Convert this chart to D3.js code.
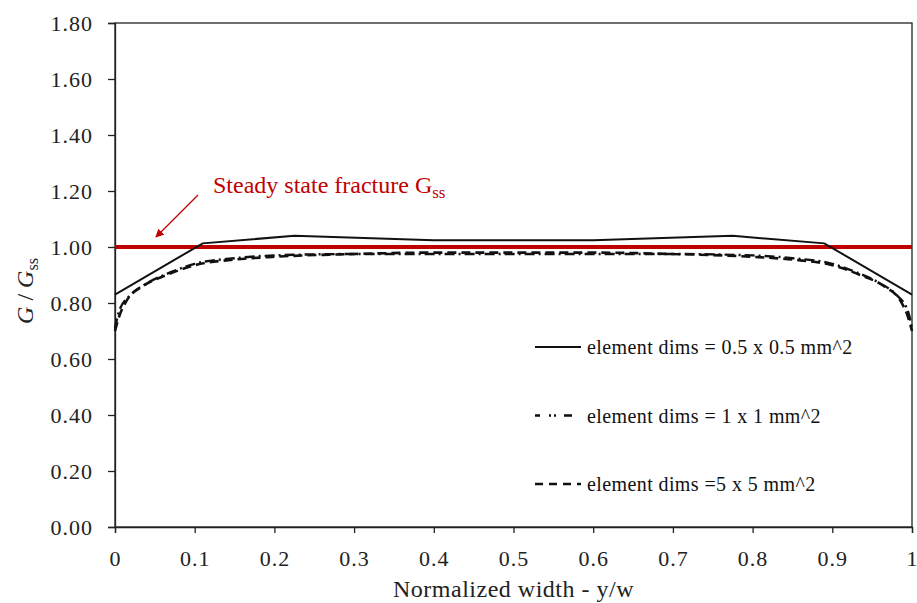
<!DOCTYPE html>
<html>
<head>
<meta charset="utf-8">
<script src="https://cdn.jsdelivr.net/npm/d3@7"></script>
<style>
  body { margin: 0; background: #fff; }
  svg text { font-family: "Liberation Serif", "Times New Roman", serif; }
</style>
</head>
<body>
<div id="chart"></div>
<script>
// data
const xFine = [0, 0.11, 0.225, 0.4, 0.6, 0.775, 0.89, 1]
const gFine = [0.83, 1.013, 1.04, 1.024, 1.024, 1.04, 1.013, 0.83]

const xMid = [0, 0.005, 0.02, 0.04, 0.07, 0.1, 0.15, 0.2, 0.3, 0.4, 0.5, 0.6, 0.7, 0.8, 0.85, 0.9, 0.93, 0.96, 0.98, 0.995, 1]
const gMid = [0.71, 0.77, 0.83, 0.87, 0.91, 0.94, 0.96, 0.97, 0.975, 0.975, 0.975, 0.975, 0.975, 0.97, 0.96, 0.94, 0.91, 0.87, 0.83, 0.77, 0.71]

const xCoarse = [0, 0.005, 0.015, 0.035, 0.065, 0.1, 0.15, 0.2, 0.3, 0.4, 0.5, 0.6, 0.7, 0.8, 0.85, 0.9, 0.935, 0.965, 0.985, 0.995, 1]
const gCoarse = [0.70, 0.75, 0.81, 0.86, 0.90, 0.935, 0.955, 0.965, 0.975, 0.98, 0.98, 0.98, 0.975, 0.965, 0.955, 0.935, 0.90, 0.86, 0.81, 0.75, 0.70]

const steadyState = 1.0
const xTicks = [0, 0.1, 0.2, 0.3, 0.4, 0.5, 0.6, 0.7, 0.8, 0.9, 1]
const yTicks = [0, 0.2, 0.4, 0.6, 0.8, 1.0, 1.2, 1.4, 1.6, 1.8]
const legendLabels = ["element dims = 0.5 x 0.5 mm^2", "element dims = 1 x 1 mm^2", "element dims =5 x 5 mm^2"]

const serif = '"Liberation Serif", "Times New Roman", serif'

const dimensions = {
    width: 917,
    height: 603,
    margins: { top: 23, right: 5, bottom: 76, left: 115 }
}
dimensions.boundedWidth = dimensions.width - dimensions.margins.left - dimensions.margins.right
dimensions.boundedHeight = dimensions.height - dimensions.margins.top - dimensions.margins.bottom

const wrapper = d3.select("#chart").append("svg")
    .attr("width", dimensions.width)
    .attr("height", dimensions.height)
    .attr("font-family", serif)

const bounds = wrapper.append("g")
    .attr("transform", `translate(${dimensions.margins.left}, ${dimensions.margins.top})`)

const xScale = d3.scaleLinear().domain([0, 1]).range([0, dimensions.boundedWidth])
const yScale = d3.scaleLinear().domain([0, 1.8]).range([dimensions.boundedHeight, 0])

// frame
bounds.append("rect")
    .attr("width", dimensions.boundedWidth)
    .attr("height", dimensions.boundedHeight)
    .attr("fill", "none")
    .attr("stroke", "#222")
    .attr("stroke-width", 1.3)

// axes
const xAxis = bounds.append("g")
    .attr("transform", `translate(0, ${dimensions.boundedHeight})`)
    .call(d3.axisBottom(xScale).tickValues(xTicks).tickSize(6).tickPadding(17)
        .tickFormat(d => d === 0 || d === 1 ? d3.format("d")(d) : d3.format(".1f")(d)))
const yAxis = bounds.append("g")
    .call(d3.axisLeft(yScale).tickValues(yTicks).tickSize(7).tickPadding(15)
        .tickFormat(d3.format(".2f")))

;[xAxis, yAxis].forEach(a => {
    a.attr("font-family", serif)
    a.select(".domain").attr("stroke", "#222").attr("stroke-width", 1.3)
    a.selectAll(".tick line").attr("stroke", "#222").attr("stroke-width", 1.3)
    a.selectAll(".tick text").attr("font-size", 22).attr("fill", "#222")
        .attr("letter-spacing", 1)
})

// axis titles
wrapper.append("text")
    .attr("x", dimensions.margins.left + dimensions.boundedWidth / 2)
    .attr("y", 597)
    .attr("text-anchor", "middle")
    .attr("font-size", 24)
    .attr("letter-spacing", 0.5)
    .attr("fill", "#222")
    .text("Normalized width - y/w")

const yTitle = wrapper.append("text")
    .attr("transform", "translate(33, 291) rotate(-90)")
    .attr("text-anchor", "middle")
    .attr("font-size", 24)
    .attr("fill", "#222")
yTitle.append("tspan").attr("font-style", "italic").text("G")
yTitle.append("tspan").text(" / ")
yTitle.append("tspan").attr("font-style", "italic").text("G")
yTitle.append("tspan").attr("font-size", 16).attr("dy", 5).text("ss")

// steady state line
bounds.append("line")
    .attr("x1", 0)
    .attr("x2", dimensions.boundedWidth)
    .attr("y1", yScale(steadyState))
    .attr("y2", yScale(steadyState))
    .attr("stroke", "#c00000")
    .attr("stroke-width", 4)

// series
const series = [
    { xs: xFine, ys: gFine, dash: null, legendDash: null, width: 2, curve: d3.curveLinear, len: 46 },
    { xs: xMid, ys: gMid, dash: "10,4,2,4", legendDash: "5,9,2,3,2,8,8", width: 2.4, curve: d3.curveMonotoneX, len: 38 },
    { xs: xCoarse, ys: gCoarse, dash: "9,5", legendDash: "8,6", width: 2.6, curve: d3.curveMonotoneX, len: 46 }
]

series.forEach(s => {
    const pts = s.xs.map((x, i) => [x, s.ys[i]])
    const line = d3.line()
        .x(d => xScale(d[0]))
        .y(d => yScale(d[1]))
        .curve(s.curve)
    bounds.append("path")
        .datum(pts)
        .attr("d", line)
        .attr("fill", "none")
        .attr("stroke", "#111")
        .attr("stroke-width", s.width)
        .attr("stroke-dasharray", s.dash)
})

// legend
const legend = wrapper.append("g")
    .attr("transform", "translate(535, 347)")

series.forEach((s, i) => {
    const item = legend.append("g")
        .attr("transform", `translate(0, ${i * 68.5})`)
    item.append("line")
        .attr("x1", 0)
        .attr("x2", s.len)
        .attr("stroke", "#111")
        .attr("stroke-width", s.width)
        .attr("stroke-dasharray", s.legendDash)
    item.append("text")
        .attr("x", 52)
        .attr("y", 7)
        .attr("font-size", 20)
        .attr("letter-spacing", 0.4)
        .attr("fill", "#111")
        .text(legendLabels[i])
})

// annotation
const note = wrapper.append("text")
    .attr("x", 213)
    .attr("y", 193)
    .attr("font-size", 24)
    .attr("fill", "#c00000")
note.append("tspan").text("Steady state fracture G")
note.append("tspan").attr("font-size", 17).attr("dy", 5).text("ss")

const defs = wrapper.append("defs")
defs.append("marker")
    .attr("id", "arrow")
    .attr("viewBox", "0 0 10 10")
    .attr("refX", 9)
    .attr("refY", 5)
    .attr("markerWidth", 7)
    .attr("markerHeight", 7)
    .attr("orient", "auto")
    .append("path")
    .attr("d", "M0,0 L10,5 L0,10 z")
    .attr("fill", "#c00000")

wrapper.append("line")
    .attr("x1", 198)
    .attr("y1", 195)
    .attr("x2", 156)
    .attr("y2", 237)
    .attr("stroke", "#c00000")
    .attr("stroke-width", 1.2)
    .attr("marker-end", "url(#arrow)")
</script>
</body>
</html>
